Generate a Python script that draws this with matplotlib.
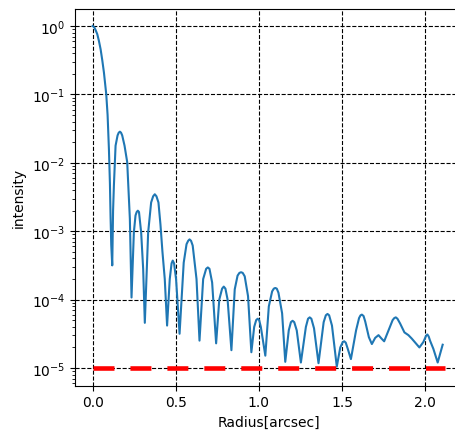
import numpy as np
import matplotlib
matplotlib.use('Agg')
import matplotlib.pyplot as plt

# radius [arcsec] and log10(intensity)
radius = [0.0, 0.010, 0.018, 0.028, 0.038, 0.048, 0.058, 0.068, 0.076, 0.082, 0.090, 0.098, 0.104, 0.108, 0.112, 0.118,
          0.123, 0.128, 0.138, 0.150, 0.157, 0.164, 0.171, 0.178, 0.192, 0.208, 0.224, 0.234,
          0.248, 0.258, 0.265, 0.272, 0.279, 0.292, 0.304, 0.314,
          0.334, 0.352, 0.364, 0.374, 0.384, 0.396, 0.408, 0.420, 0.434, 0.448,
          0.464, 0.475, 0.482, 0.490, 0.502, 0.523,
          0.548, 0.565, 0.575, 0.583, 0.592, 0.602, 0.625, 0.643,
          0.665, 0.683, 0.693, 0.703, 0.719, 0.743,
          0.762, 0.779, 0.789, 0.799, 0.812, 0.835,
          0.855, 0.872, 0.883, 0.893, 0.903, 0.915, 0.935, 0.955,
          0.972, 0.984, 0.993, 1.002, 1.012, 1.039,
          1.060, 1.080, 1.090, 1.099, 1.108, 1.118, 1.140, 1.159,
          1.180, 1.193, 1.203, 1.213, 1.228, 1.253,
          1.283, 1.296, 1.306, 1.316, 1.332, 1.359,
          1.390, 1.403, 1.413, 1.423, 1.440, 1.469,
          1.490, 1.505, 1.514, 1.523, 1.535, 1.554,
          1.585, 1.603, 1.612, 1.620, 1.630, 1.640, 1.662, 1.680, 1.700, 1.720, 1.738, 1.754,
          1.780, 1.805, 1.815, 1.824, 1.834, 1.850, 1.876, 1.900, 1.920, 1.945, 1.966,
          1.990, 2.006, 2.014, 2.022, 2.030, 2.050, 2.076, 2.090, 2.106]
log_int = [0.0, -0.02, -0.06, -0.12, -0.22, -0.34, -0.50, -0.68, -0.86, -1.0, -1.3, -1.8, -2.3, -2.8, -3.2, -3.50,
           -2.70, -2.33, -1.75, -1.60, -1.56, -1.545, -1.56, -1.60, -1.75, -1.99, -2.82, -3.97,
           -3.02, -2.77, -2.72, -2.70, -2.72, -3.02, -3.55, -4.34,
           -3.02, -2.58, -2.49, -2.46, -2.49, -2.58, -2.90, -3.30, -3.70, -4.38,
           -3.70, -3.47, -3.43, -3.47, -3.70, -4.50,
           -3.46, -3.19, -3.14, -3.12, -3.14, -3.21, -3.70, -4.60,
           -3.70, -3.55, -3.53, -3.55, -3.75, -4.64,
           -4.00, -3.84, -3.81, -3.84, -4.00, -4.74,
           -3.85, -3.65, -3.61, -3.60, -3.61, -3.66, -3.95, -4.77,
           -4.40, -4.30, -4.28, -4.30, -4.40, -4.82,
           -4.10, -3.88, -3.84, -3.83, -3.84, -3.90, -4.20, -4.91,
           -4.45, -4.33, -4.31, -4.33, -4.45, -4.92,
           -4.40, -4.28, -4.26, -4.28, -4.42, -4.93,
           -4.33, -4.23, -4.21, -4.23, -4.38, -4.98,
           -4.70, -4.62, -4.61, -4.63, -4.72, -4.87,
           -4.45, -4.27, -4.23, -4.22, -4.24, -4.32, -4.55, -4.65, -4.56, -4.52, -4.57, -4.61,
           -4.45, -4.30, -4.27, -4.26, -4.28, -4.35, -4.48, -4.52, -4.57, -4.64, -4.70,
           -4.62, -4.53, -4.51, -4.54, -4.60, -4.72, -4.92, -4.80, -4.66]

floor_x = [0.0, 2.12]
floor_y = [1e-5, 1e-5]

fig = plt.figure(figsize=(4.56, 4.31), dpi=100)
ax = fig.add_axes([0.1645, 0.1028, 0.850, 0.874])

ax.plot(radius, 10**np.array(log_int), color='C0', linewidth=1.5)
ax.plot(floor_x, floor_y, color='red', linewidth=3.3,
        linestyle=(0, (15.1/3.3, 11.5/3.3)))
ax.set_yscale('log')
ax.set_xlim(-0.106, 2.226)
ax.set_ylim(10**-5.259, 10**0.2485)
ax.set_xticks([0.0, 0.5, 1.0, 1.5, 2.0])
ax.grid(True, which='major', color='k', linestyle='--', linewidth=0.8)
ax.set_xlabel('Radius[arcsec]')
ax.set_ylabel('intensity')

fig.savefig('out.png', dpi=100)
